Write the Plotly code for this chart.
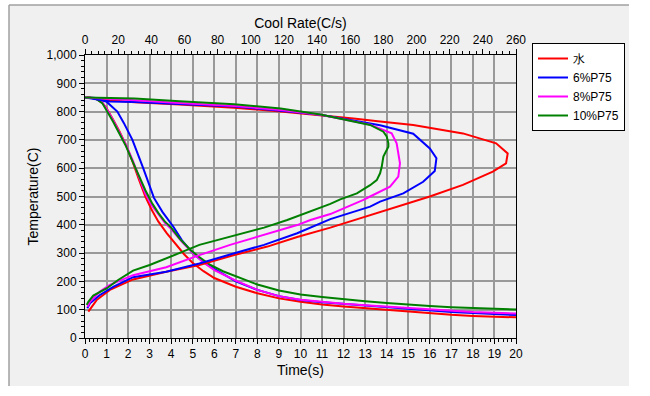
import plotly.graph_objects as go

# ---- data ----
series_names = ["水", "6%P75", "8%P75", "10%P75"]
series_colors = ["#ff0000", "#0000ff", "#ff00ff", "#008000"]

# Temperature vs time (bottom axis)
t_water = [0.1, 0.5, 0.8, 1.0, 1.3, 1.6, 1.9, 2.2, 2.5, 2.8, 3.1, 3.4, 3.8, 4.2, 4.6, 5.0, 5.5, 6.0, 7.0, 8.0, 9.0, 10.0, 11.0, 12.0, 13.0, 14.0, 15.0, 16.0, 17.0, 18.0, 19.0, 20.0]
T_water = [850, 846, 832, 812, 772, 730, 682, 625, 560, 500, 452, 412, 370, 332, 296, 265, 236, 212, 181, 158, 140, 128, 118, 111, 105, 99, 92, 87, 82, 78, 75, 73]

t_6 = [0.1, 0.5, 1.0, 1.3, 1.5, 1.8, 2.2, 2.7, 3.2, 3.6, 4.1, 4.5, 5.0, 5.5, 6.0, 7.0, 8.0, 9.0, 10.0, 11.0, 12.0, 13.0, 14.0, 15.0, 16.0, 17.0, 18.0, 19.0, 20.0]
T_6 = [850, 848, 835, 815, 800, 760, 700, 600, 495, 445, 393, 345, 300, 268, 244, 200, 170, 148, 134, 126, 120, 114, 108, 103, 97, 92, 88, 84, 81]

t_8 = [0.1, 0.5, 0.8, 1.0, 1.3, 1.6, 1.9, 2.2, 2.5, 2.8, 3.1, 3.4, 3.7, 4.0, 4.5, 5.0, 5.5, 6.0, 7.0, 8.0, 9.0, 10.0, 11.0, 12.0, 13.0, 14.0, 15.0, 16.0, 17.0, 18.0, 19.0, 20.0]
T_8 = [850, 846, 832, 810, 770, 728, 682, 630, 570, 510, 468, 436, 408, 385, 340, 300, 267, 240, 203, 170, 148, 135, 127, 121, 116, 111, 106, 101, 96, 92, 89, 87]

t_10 = [0.1, 0.5, 0.8, 1.0, 1.3, 1.6, 1.9, 2.2, 2.5, 2.8, 3.1, 3.4, 3.7, 4.0, 4.4, 4.9, 5.3, 5.8, 6.4, 7.0, 8.0, 9.0, 10.0, 11.0, 12.0, 13.0, 14.0, 15.0, 16.0, 17.0, 18.0, 19.0, 20.0]
T_10 = [850, 846, 830, 805, 765, 722, 678, 625, 572, 522, 478, 442, 412, 390, 350, 311, 286, 259, 236, 218, 189, 168, 154, 145, 137, 130, 124, 118, 113, 109, 106, 103, 101]

# Temperature vs cool rate (top axis)
r_water = [0, 5, 15, 30, 57, 90, 118, 142, 162, 178, 198, 228, 248, 255, 254, 246, 228, 208, 188, 178, 148, 128, 110, 90, 69, 49, 29, 15, 7, 2]
R_T_water = [850, 848, 840, 833, 825, 814, 800, 788, 776, 765, 753, 723, 688, 652, 617, 588, 541, 500, 464, 446, 390, 357, 323, 293, 258, 234, 207, 170, 134, 93]

r_6 = [0, 10, 15, 30, 57, 90, 118, 142, 178, 198, 208, 212, 211, 204, 192, 178, 172, 148, 128, 108, 88, 69, 49, 29, 17, 9, 3, 1.4]
R_T_6 = [850, 842, 836, 834, 827, 818, 803, 789, 752, 722, 670, 635, 590, 552, 511, 482, 464, 420, 370, 329, 296, 263, 234, 215, 181, 152, 123, 105]

r_8 = [0, 15, 30, 57, 90, 118, 142, 172, 185, 188, 190, 190, 189, 184, 172, 168, 148, 136, 128, 108, 88, 69, 49, 29, 15, 9, 3, 1.5]
R_T_8 = [850, 846, 840, 830, 820, 806, 789, 754, 723, 688, 629, 617, 570, 535, 500, 488, 438, 417, 399, 364, 330, 293, 250, 222, 188, 164, 128, 110]

r_10 = [0, 15, 30, 57, 90, 118, 142, 172, 180, 182, 183, 183, 180, 179, 178, 176, 172, 164, 154, 148, 122, 108, 88, 69, 59, 39, 29, 20, 13, 5, 2, 1]
R_T_10 = [850, 848, 846, 837, 826, 811, 790, 753, 729, 712, 688, 676, 641, 605, 582, 558, 540, 511, 490, 474, 417, 390, 360, 329, 305, 258, 238, 205, 175, 150, 128, 117]

time_curves = [(t_water, T_water), (t_6, T_6), (t_8, T_8), (t_10, T_10)]
rate_curves = [(r_water, R_T_water), (r_6, R_T_6), (r_8, R_T_8), (r_10, R_T_10)]

FONT = "Liberation Sans, Arial, sans-serif"

fig = go.Figure()
for name, color, (tx, ty), (rx, ry) in zip(series_names, series_colors, time_curves, rate_curves):
    fig.add_trace(go.Scatter(x=tx, y=ty, mode="lines", name=name, legendgroup=name,
                             line=dict(color=color, width=2), xaxis="x", yaxis="y"))
    fig.add_trace(go.Scatter(x=rx, y=ry, mode="lines", name=name, legendgroup=name, showlegend=False,
                             line=dict(color=color, width=2), xaxis="x2", yaxis="y"))

# plot area geometry (pixels)
L, R, T, B = 85, 516, 55, 338
W, H = 650, 396
pw, ph = R - L, B - T

def px(xp):
    return (xp - L) / pw

def py(yp):
    return (B - yp) / ph

fig.update_layout(
    width=W, height=H,
    margin=dict(l=L, r=W - R, t=T, b=H - B, autoexpand=False),
    paper_bgcolor="white",
    plot_bgcolor="white",
    font=dict(family=FONT, size=12, color="black"),
    showlegend=True,
    legend=dict(x=px(532), y=py(43), xanchor="left", yanchor="top",
                bgcolor="white", bordercolor="black", borderwidth=1, itemwidth=30,
                font=dict(family=FONT, size=12), tracegroupgap=0),
    xaxis=dict(range=[0, 20], dtick=1, tick0=0, showgrid=True, gridcolor="#999999", gridwidth=1.5,
               ticks="outside", ticklen=5, tickcolor="black", showline=True, linecolor="black", linewidth=1,
               mirror=False, zeroline=False, automargin=False,
               minor=dict(dtick=0.2, ticks="outside", ticklen=3, tickcolor="black", showgrid=False),
               title=dict(text="Time(s)", standoff=4), tickfont=dict(size=12)),
    xaxis2=dict(range=[0, 260], dtick=20, tick0=0, overlaying="x", side="top", showgrid=False,
                ticks="outside", ticklen=5, tickcolor="black", showline=True, linecolor="black", linewidth=1,
                zeroline=False, automargin=False,
                minor=dict(dtick=4, ticks="outside", ticklen=3, tickcolor="black", showgrid=False),
                title=dict(text="Cool Rate(C/s)", standoff=1), tickfont=dict(size=12)),
    yaxis=dict(range=[0, 1000], dtick=100, tick0=0, tickformat=",", showgrid=True, gridcolor="#999999",
               gridwidth=1.5, ticks="outside", ticklen=5, tickcolor="black", showline=True,
               linecolor="black", linewidth=1, mirror=True, zeroline=False, automargin=False,
               minor=dict(dtick=20, ticks="outside", ticklen=3, tickcolor="black", showgrid=False),
               title=dict(text="Temperature(C)", standoff=4), tickfont=dict(size=12)),
    shapes=[
        dict(type="rect", xref="paper", yref="paper", x0=px(9), x1=px(629), y0=py(386), y1=py(5),
             fillcolor="#f0f0f0", line=dict(width=0), layer="below"),
        dict(type="line", xref="paper", yref="paper", x0=px(9), x1=px(629), y0=py(5), y1=py(5),
             line=dict(color="#a0a0a0", width=1.5), layer="below"),
        dict(type="line", xref="paper", yref="paper", x0=px(9), x1=px(9), y0=py(386), y1=py(5),
             line=dict(color="#a0a0a0", width=1.5), layer="below"),
    ],
)

fig.write_html("out.html", config={"displayModeBar": False},
               post_script="document.body.style.margin='0';")
